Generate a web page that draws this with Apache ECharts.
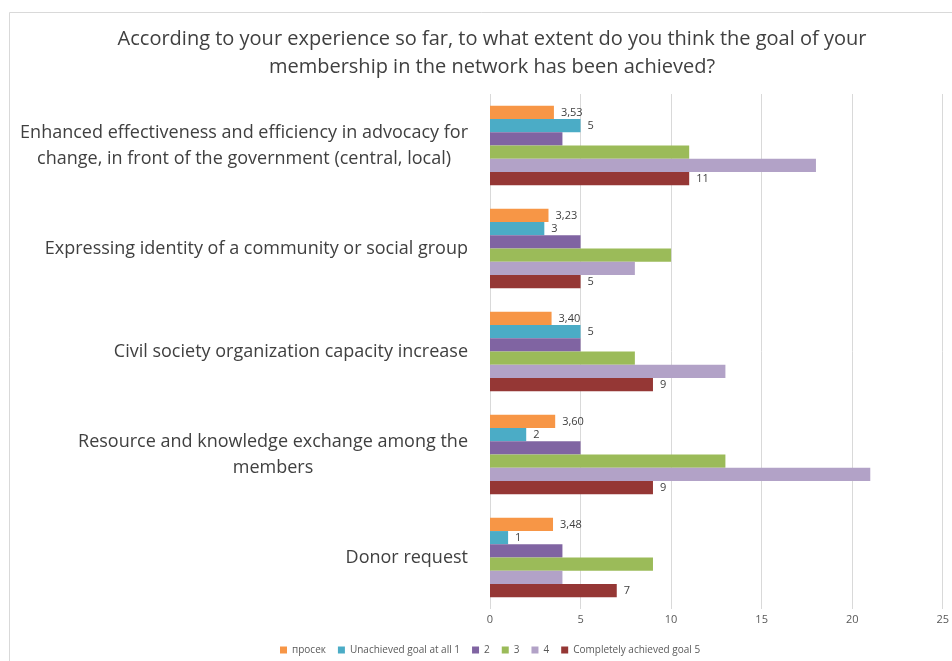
<!DOCTYPE html>
<html><head><meta charset="utf-8">
<script src="https://cdn.jsdelivr.net/npm/echarts@6/dist/echarts.min.js"></script>
<style>html,body{margin:0;padding:0;background:#fff}#c{width:952px;height:661px}</style>
</head><body><div id="c"></div>
<script>
var categories = [
  "Enhanced effectiveness and efficiency in advocacy for\nchange, in front of the government (central, local)",
  "Expressing identity of a community or social group",
  "Civil society organization capacity increase",
  "Resource and knowledge exchange among the\nmembers",
  "Donor request"
];
var seriesNames = ["просек", "Unachieved goal at all 1", "2", "3", "4", "Completely achieved goal 5"];
var avgValues = [3.53, 3.23, 3.40, 3.60, 3.48];
var goal1Values = [5, 3, 5, 2, 1];
var goal2Values = [4, 5, 5, 5, 4];
var goal3Values = [11, 10, 8, 13, 9];
var goal4Values = [18, 8, 13, 21, 4];
var goal5Values = [11, 5, 9, 9, 7];
var xTicks = [0, 5, 10, 15, 20, 25];
var colors = ["#F79646", "#4BACC6", "#8064A2", "#9BBB59", "#B2A2C7", "#953735"];

var FONT = "Open Sans";
var chart = echarts.init(document.getElementById('c'), null, {renderer: 'canvas'});

function mk(name, data, color, showLabel, fmt) {
  return {
    name: name, type: 'bar', data: data, barGap: 0, barCategoryGap: '23%',
    itemStyle: {color: color},
    label: {show: showLabel, position: 'right', distance: 7, color: '#404040',
      fontFamily: FONT, fontSize: 11, formatter: fmt},
    emphasis: {disabled: true}
  };
}
var fmtAvg = function (p) { return p.value.toFixed(2).replace('.', ','); };
var fmtInt = function (p) { return String(p.value); };

chart.setOption({
  animation: false,
  backgroundColor: '#fff',
  graphic: [{type: 'rect', shape: {x: 9.5, y: 12.5, width: 960, height: 660},
    style: {fill: 'none', stroke: '#d9d9d9', lineWidth: 1}, silent: true, z: -1}],
  title: {
    text: "According to your experience so far, to what extent do you think the goal of your\nmembership in the network has been achieved?",
    left: 487, textAlign: 'center', top: 20,
    textStyle: {fontFamily: FONT, fontSize: 20, fontWeight: 'normal', color: '#404040', lineHeight: 28}
  },
  legend: {
    data: seriesNames, bottom: 1, left: 275, itemWidth: 7, itemHeight: 7, itemGap: 12,
    icon: 'rect',
    textStyle: {fontFamily: FONT, fontSize: 10, color: '#595959'}
  },
  grid: {left: 490, right: 7, top: 94, bottom: 52, containLabel: false},
  xAxis: {
    type: 'value', min: 0, max: 25, interval: 5,
    axisLine: {show: false}, axisTick: {show: false},
    splitLine: {show: true, lineStyle: {color: '#d9d9d9', width: 1}},
    axisLabel: {color: '#595959', fontFamily: FONT, fontSize: 11, margin: 5,
      formatter: function (v) { return xTicks.indexOf(v) >= 0 ? String(v) : ''; }}
  },
  yAxis: {
    type: 'category', data: categories, inverse: true,
    axisLine: {show: false}, axisTick: {show: false},
    axisLabel: {
      color: '#404040', fontFamily: FONT, fontSize: 18, margin: 22, lineHeight: 26,
      formatter: function (v) {
        return v.split('\n').map(function (l) { return '{c|' + l + '}'; }).join('\n');
      },
      rich: {c: {align: 'center', fontFamily: FONT, fontSize: 18, color: '#404040', lineHeight: 26}}
    }
  },
  series: [
    mk(seriesNames[0], avgValues, colors[0], true, fmtAvg),
    mk(seriesNames[1], goal1Values, colors[1], true, fmtInt),
    mk(seriesNames[2], goal2Values, colors[2], false, fmtInt),
    mk(seriesNames[3], goal3Values, colors[3], false, fmtInt),
    mk(seriesNames[4], goal4Values, colors[4], false, fmtInt),
    mk(seriesNames[5], goal5Values, colors[5], true, fmtInt)
  ]
});
</script></body></html>
